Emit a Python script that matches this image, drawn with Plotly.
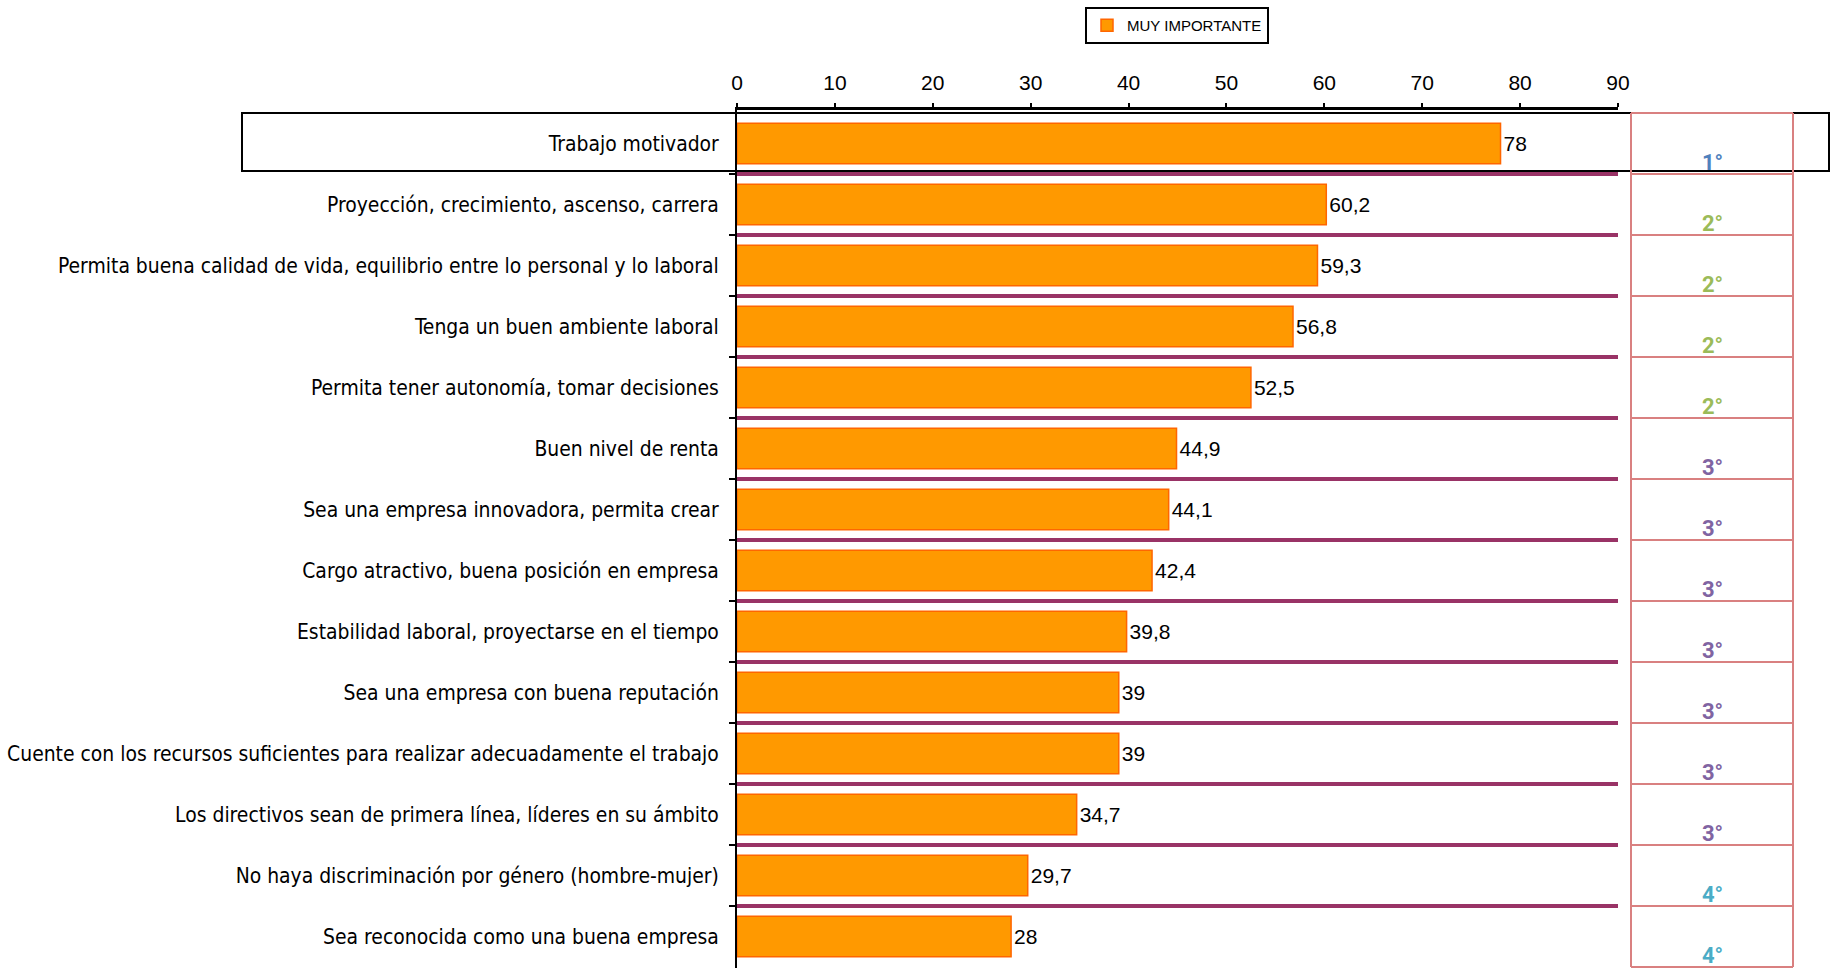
import plotly.graph_objects as go

categories = [
    "Trabajo motivador",
    "Proyección, crecimiento, ascenso, carrera",
    "Permita buena calidad de vida, equilibrio entre lo personal y lo laboral",
    "Tenga un buen ambiente laboral",
    "Permita tener autonomía, tomar decisiones",
    "Buen nivel de renta",
    "Sea una empresa innovadora, permita crear",
    "Cargo atractivo, buena posición en empresa",
    "Estabilidad laboral, proyectarse en el tiempo",
    "Sea una empresa con buena reputación",
    "Cuente con los recursos suficientes para realizar adecuadamente el trabajo",
    "Los directivos sean de primera línea, líderes en su ámbito",
    "No haya discriminación por género (hombre-mujer)",
    "Sea reconocida como una buena empresa",
]
values = [78, 60.2, 59.3, 56.8, 52.5, 44.9, 44.1, 42.4, 39.8, 39, 39, 34.7, 29.7, 28]
ranks = [1, 2, 2, 2, 2, 3, 3, 3, 3, 3, 3, 3, 4, 4]
rank_colors = {1: "#4F81BD", 2: "#9BBB59", 3: "#8064A2", 4: "#4BACC6"}
series_name = "MUY IMPORTANTE"
x_ticks = [0, 10, 20, 30, 40, 50, 60, 70, 80, 90]

W, H = 1831, 968
L = 737 / W
R = 1618 / W
TOP = 1 - 110 / H
RK0 = 1631 / W
RK1 = 1793 / W

narrow = "Liberation Sans Narrow, Arial Narrow, DejaVu Sans Condensed, sans-serif"
regular = "Liberation Sans, Arial, sans-serif"

fig = go.Figure()
fig.add_trace(go.Bar(
    x=values, y=categories, orientation="h", name=series_name,
    marker=dict(color="#FF9900", line=dict(color="#FF6600", width=1.5)),
    text=[str(v).replace(".", ",") for v in values],
    textposition="outside", cliponaxis=False,
    textfont=dict(family=regular, size=21, color="black"),
    showlegend=True,
))

shapes = []
n = len(categories)
# purple separators between rows
for i in range(n - 1):
    yb = i + 0.5
    shapes.append(dict(type="line", xref="x", yref="y", x0=0, x1=90, y0=yb, y1=yb,
                       line=dict(color="#993366", width=4), layer="below"))
# tick marks on the category axis at row boundaries
for i in range(n):
    yb = i - 0.5
    shapes.append(dict(type="line", xref="paper", yref="y", x0=L - 8 / W, x1=L, y0=yb, y1=yb,
                       line=dict(color="black", width=2)))
# highlight box around first row
shapes.append(dict(type="rect", xref="paper", yref="y", x0=242 / W, x1=1829 / W, y0=-0.5, y1=0.45,
                   line=dict(color="black", width=2), fillcolor="rgba(0,0,0,0)"))
# rank column cells
for i in range(n + 1):
    yb = i - 0.5
    shapes.append(dict(type="line", xref="paper", yref="y", x0=RK0, x1=RK1, y0=yb, y1=yb,
                       line=dict(color="#D98080", width=2)))
for xp in (RK0, RK1):
    shapes.append(dict(type="line", xref="paper", yref="y", x0=xp, x1=xp, y0=-0.5, y1=n - 0.5,
                       line=dict(color="#D98080", width=2)))

annotations = []
for c, r in zip(categories, ranks):
    annotations.append(dict(
        xref="paper", yref="y", x=(RK0 + RK1) / 2, y=c, yshift=-19,
        xanchor="center", yanchor="middle",
        text=f"<b>{r}°</b>", showarrow=False,
        font=dict(family="Roboto, Liberation Sans, sans-serif", size=22, color=rank_colors[r]),
    ))

fig.update_layout(
    width=W, height=H, autosize=False,
    margin=dict(l=0, r=0, t=0, b=0, pad=0),
    paper_bgcolor="white", plot_bgcolor="white",
    bargap=0.34,
    shapes=shapes, annotations=annotations,
    legend=dict(x=1085 / W, y=1 - 7 / H, xanchor="left", yanchor="top",
                bordercolor="black", borderwidth=2, bgcolor="white",
                font=dict(family=regular, size=15, color="black"),
                itemwidth=30, tracegroupgap=0),
    xaxis=dict(domain=[L, R], range=[0, 90], side="top", tickvals=x_ticks, automargin=False,
               showgrid=False, zeroline=False, showline=True, linecolor="black", linewidth=3,
               ticks="outside", ticklen=4, tickwidth=2, tickcolor="black", ticklabelstandoff=5,
               tickfont=dict(family=regular, size=21, color="black")),
    yaxis=dict(domain=[0, TOP], autorange="reversed", showgrid=False, zeroline=False,
               automargin=False,
               showline=True, linecolor="black", linewidth=2, ticks="", ticklabelstandoff=12,
               tickfont=dict(family=narrow, size=20.9, color="black")),
)

fig.write_html("out.html", config={"displayModeBar": False},
               post_script="document.body.style.margin='0';document.body.style.overflow='hidden';")
